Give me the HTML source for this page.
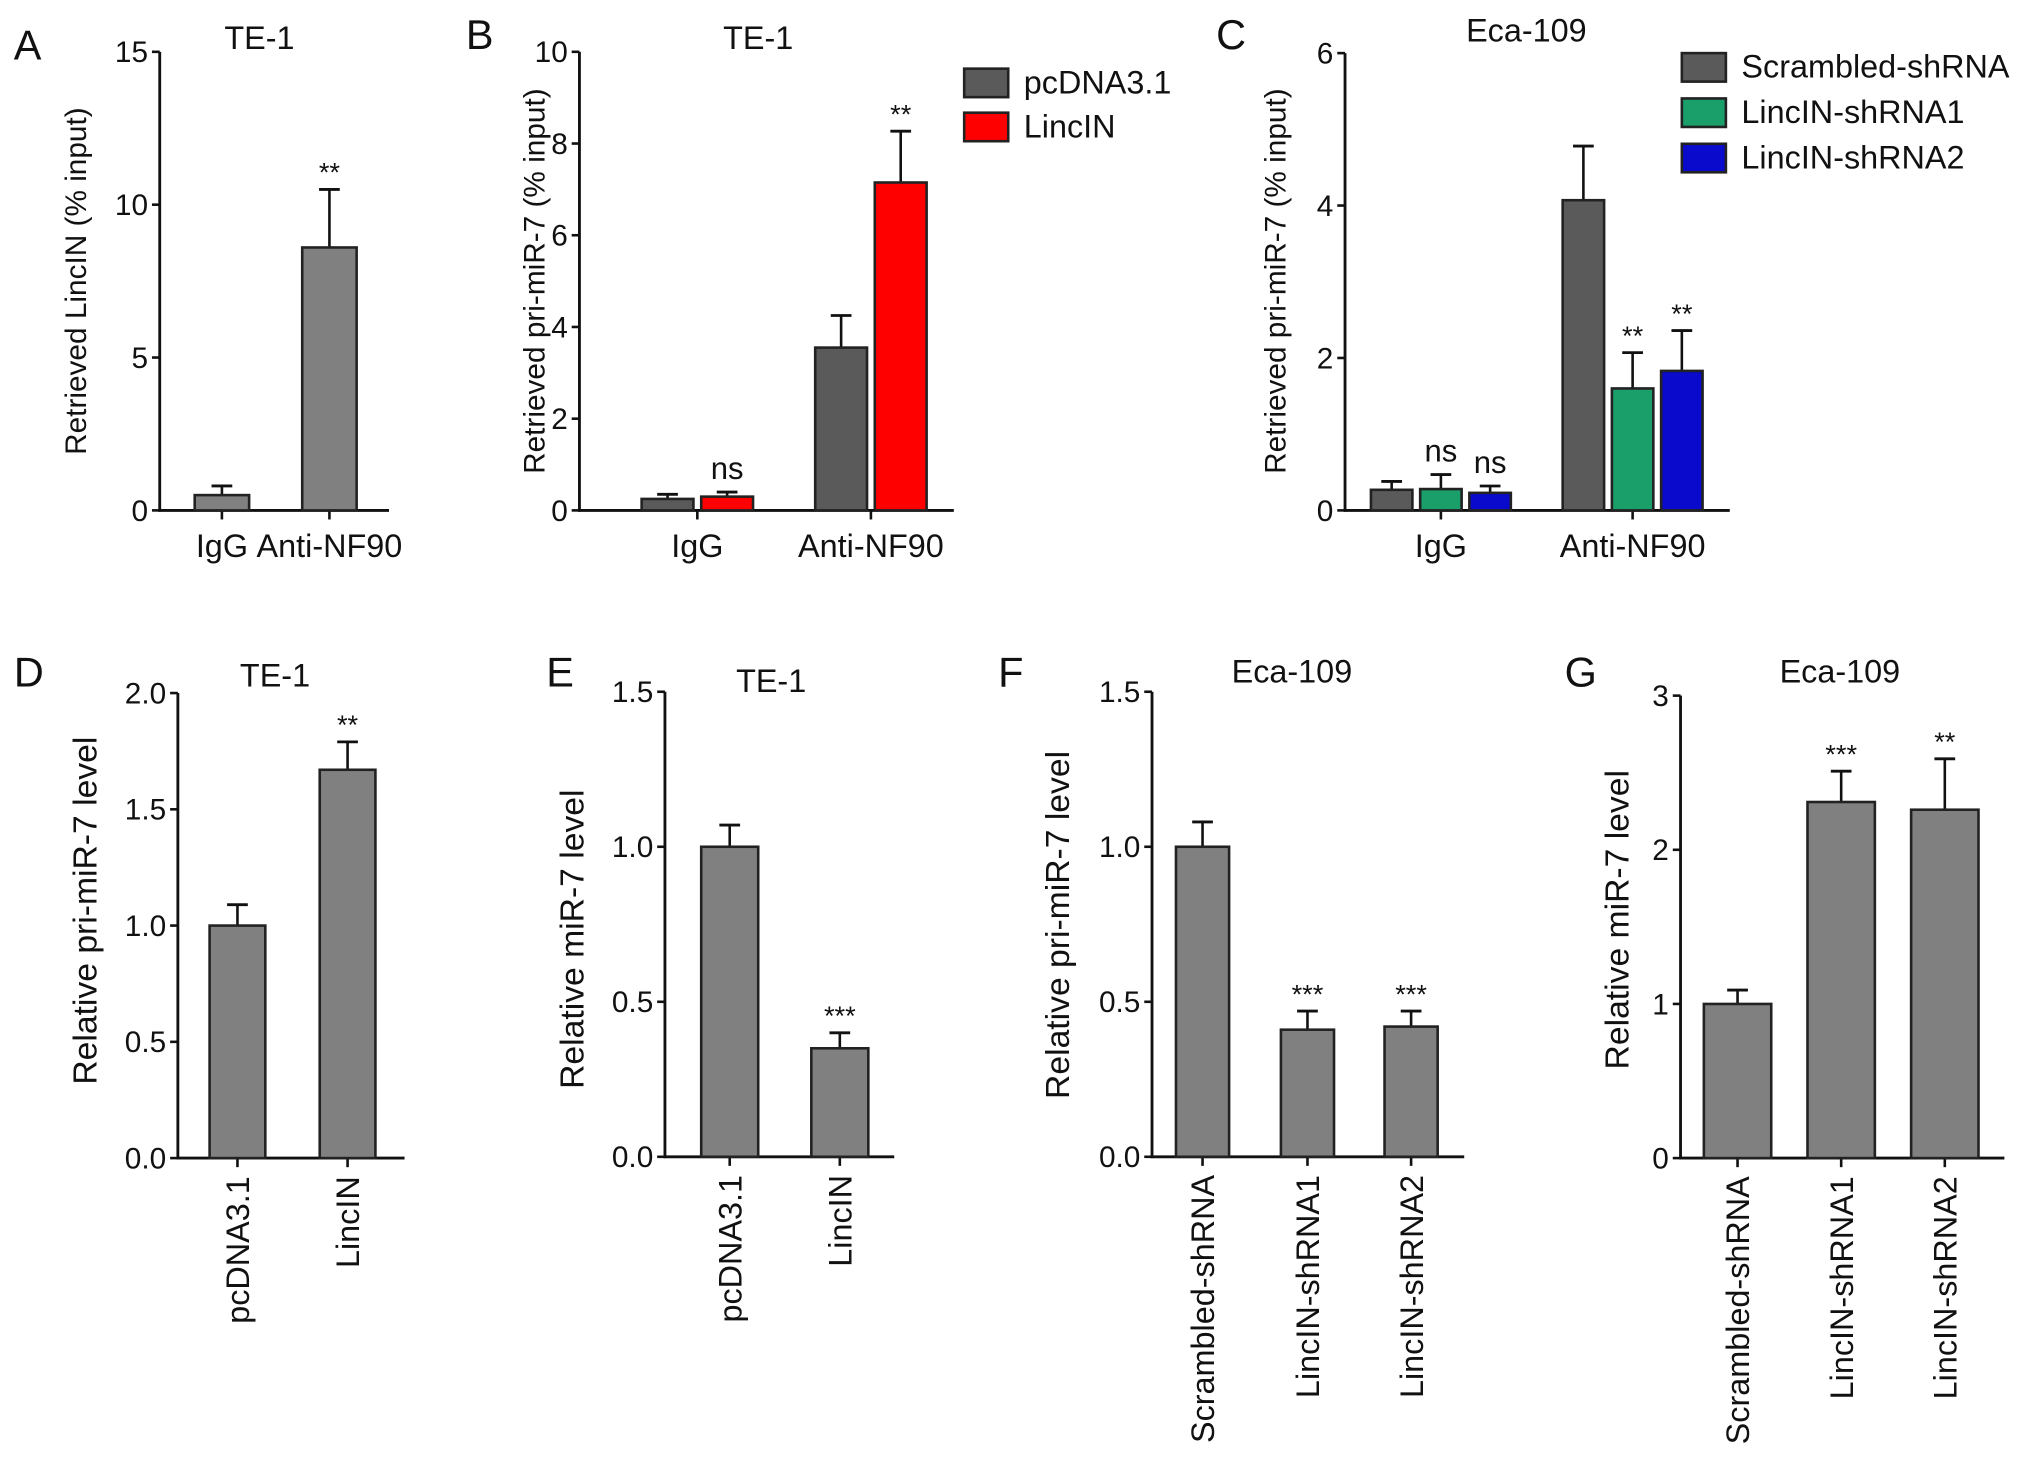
<!DOCTYPE html>
<html><head><meta charset="utf-8"><style>
body{margin:0;background:#fff}
svg{display:block;font-family:"Liberation Sans",sans-serif}
</style></head><body>
<svg id="fig" width="2032" height="1469" viewBox="0 0 1568 1134" xmlns="http://www.w3.org/2000/svg"></svg>
<script>
// Panel data
const aCats=["IgG","Anti-NF90"];
const aVals=[[0.5,8.6]];
const aErrs=[[0.8,10.5]];
const aSig=[["",'**']];
const aTicks=["0","5","10","15"];

const bCats=["IgG","Anti-NF90"];
const bVals=[[0.25,3.55],[0.3,7.15]];
const bErrs=[[0.35,4.25],[0.4,8.27]];
const bSig=[["",""],["ns","**"]];
const bTicks=["0","2","4","6","8","10"];
const bLegend=["pcDNA3.1","LincIN"];

const cCats=["IgG","Anti-NF90"];
const cVals=[[0.27,4.07],[0.28,1.6],[0.23,1.83]];
const cErrs=[[0.38,4.78],[0.47,2.07],[0.32,2.36]];
const cSig=[["",""],["ns","**"],["ns","**"]];
const cTicks=["0","2","4","6"];
const cLegend=["Scrambled-shRNA","LincIN-shRNA1","LincIN-shRNA2"];

const dCats=["pcDNA3.1","LincIN"];
const dVals=[[1.0,1.67]];
const dErrs=[[1.09,1.79]];
const dSig=[["","**"]];
const dTicks=["0.0","0.5","1.0","1.5","2.0"];

const eCats=["pcDNA3.1","LincIN"];
const eVals=[[1.0,0.35]];
const eErrs=[[1.07,0.4]];
const eSig=[["","***"]];
const eTicks=["0.0","0.5","1.0","1.5"];

const fCats=["Scrambled-shRNA","LincIN-shRNA1","LincIN-shRNA2"];
const fVals=[[1.0,0.41,0.42]];
const fErrs=[[1.08,0.47,0.47]];
const fSig=[["","***","***"]];
const fTicks=["0.0","0.5","1.0","1.5"];

const gCats=["Scrambled-shRNA","LincIN-shRNA1","LincIN-shRNA2"];
const gVals=[[1.0,2.31,2.26]];
const gErrs=[[1.09,2.51,2.59]];
const gSig=[["","***","**"]];
const gTicks=["0","1","2","3"];

const svg=document.getElementById('fig');
const NS="http://www.w3.org/2000/svg";
function mk(tag,attrs,parent){const e=document.createElementNS(NS,tag);for(const k in attrs)e.setAttribute(k,attrs[k]);(parent||svg).appendChild(e);return e;}
function txt(s,x,y,size,anchor,parent,rot){const t=mk('text',{x:x,y:y,'font-size':size,'text-anchor':anchor||'middle',fill:'#111'},parent);if(rot)t.setAttribute('transform','rotate(-90 '+x+' '+y+')');t.textContent=s;return t;}

function panel(o){
  const g=mk('g',{});
  
  
  const max=parseFloat(o.ticks[o.ticks.length-1]);
  const y=v=>o.y0-(v/max)*(o.y0-o.yTop);
  const ax=mk('line',{x1:o.ax,y1:o.yTop,x2:o.ax,y2:o.y0+1,stroke:'#111','stroke-width':2.2},g);
  
  const xa=mk('line',{x1:o.ax-1,y1:o.y0,x2:o.xEnd,y2:o.y0,stroke:'#111','stroke-width':2.2},g);
  
  o.ticks.forEach(t=>{const yy=y(parseFloat(t));
    mk('line',{x1:o.ax-6,y1:yy,x2:o.ax,y2:yy,stroke:'#111','stroke-width':2},g);
    const l=txt(t,o.ax-9,yy+8,23,'end',g);
    });
  const ns=o.vals.length;
  o.cats.forEach((c,i)=>{
    const cx=o.cx[i];
    mk('line',{x1:cx,y1:o.y0,x2:cx,y2:o.y0+7,stroke:'#111','stroke-width':2},g);
    let l;
    if(o.rot){l=txt(c,cx+9,o.y0+14,25,'end',g,true);}
    else l=txt(c,cx,o.y0+36,25,'middle',g);
    
    for(let s=0;s<ns;s++){
      const bx=cx+(s-(ns-1)/2)*o.gap-o.bw/2;
      const v=o.vals[s][i],e=o.errs[s][i];
      mk('line',{x1:bx+o.bw/2,y1:y(v),x2:bx+o.bw/2,y2:y(e),stroke:'#111','stroke-width':2},g);
      mk('line',{x1:bx+o.bw/2-8,y1:y(e),x2:bx+o.bw/2+8,y2:y(e),stroke:'#111','stroke-width':2.2},g);
      const r=mk('rect',{x:bx,y:y(v),width:o.bw,height:o.y0-y(v),fill:o.colors[s],stroke:'#222','stroke-width':2},g);
      
      const sg=o.sig[s][i];
      if(sg){const st=txt(sg,bx+o.bw/2,y(e)-(sg=='ns'?10:6),sg=='ns'?24:21,'middle',g);
        }
    }
  });
  const ti=txt(o.title,o.tx,o.ty,25,'middle',g);
  const le=txt(o.id,o.lx,o.ly,32,'middle',g);
  const yl=txt(o.ylabel,o.ylx,o.yly,o.ysize,'middle',g,true);
  if(o.legend){o.legend.forEach((n,k)=>{
    const ly=o.legY+k*o.legStep;
    const r=mk('rect',{x:o.legX,y:ly,width:34,height:22,fill:o.colors[k],stroke:'#222','stroke-width':2},g);
    
    const t=txt(n,o.legX+46,ly+19,25,'start',g);});}
}
const GR='#808080';
panel({id:'A',cats:aCats,vals:aVals,errs:aErrs,sig:aSig,ticks:aTicks,ax:123,yTop:40,y0:394,xEnd:300,cx:[171,254],bw:42,gap:0,colors:[GR],title:'TE-1',tx:200,ty:38,lx:21,ly:46,ylabel:'Retrieved  LincIN (% input)',ylx:66,yly:217,ysize:23});
panel({id:'B',cats:bCats,vals:bVals,errs:bErrs,sig:bSig,ticks:bTicks,ax:447,yTop:40,y0:394,xEnd:736,cx:[538,672],bw:40,gap:46,colors:['#5a5a5a','#ff0000'],title:'TE-1',tx:585,ty:38,lx:370,ly:38,ylabel:'Retrieved  pri-miR-7 (% input)',ylx:420,yly:217,ysize:23,legend:bLegend,legX:744,legY:53,legStep:34});
panel({id:'C',cats:cCats,vals:cVals,errs:cErrs,sig:cSig,ticks:cTicks,ax:1038,yTop:41,y0:394,xEnd:1335,cx:[1112,1260],bw:32,gap:38,colors:['#5a5a5a','#1a9e6a','#0a0acc'],title:'Eca-109',tx:1178,ty:32,lx:950,ly:38,ylabel:'Retrieved  pri-miR-7 (% input)',ylx:992,yly:217,ysize:23,legend:cLegend,legX:1298,legY:41,legStep:35});
panel({id:'D',cats:dCats,vals:dVals,errs:dErrs,sig:dSig,ticks:dTicks,ax:137,yTop:535,y0:894,xEnd:312,cx:[183,268],bw:43,gap:0,colors:[GR],title:'TE-1',tx:212,ty:530,lx:22,ly:530,ylabel:'Relative pri-miR-7 level',ylx:74,yly:703,ysize:26,rot:true});
panel({id:'E',cats:eCats,vals:eVals,errs:eErrs,sig:eSig,ticks:eTicks,ax:513,yTop:534,y0:893,xEnd:690,cx:[563,648],bw:44,gap:0,colors:[GR],title:'TE-1',tx:595,ty:534,lx:432,ly:530,ylabel:'Relative miR-7 level',ylx:450,yly:725,ysize:26,rot:true});
panel({id:'F',cats:fCats,vals:fVals,errs:fErrs,sig:fSig,ticks:fTicks,ax:889,yTop:534,y0:893,xEnd:1130,cx:[928,1009,1089],bw:41,gap:0,colors:[GR],title:'Eca-109',tx:997,ty:527,lx:780,ly:530,ylabel:'Relative pri-miR-7 level',ylx:825,yly:714,ysize:26,rot:true});
panel({id:'G',cats:gCats,vals:gVals,errs:gErrs,sig:gSig,ticks:gTicks,ax:1297,yTop:537,y0:894,xEnd:1547,cx:[1341,1421,1501],bw:52,gap:0,colors:[GR],title:'Eca-109',tx:1420,ty:527,lx:1220,ly:530,ylabel:'Relative miR-7 level',ylx:1257,yly:710,ysize:26,rot:true});
</script>
</body></html>
